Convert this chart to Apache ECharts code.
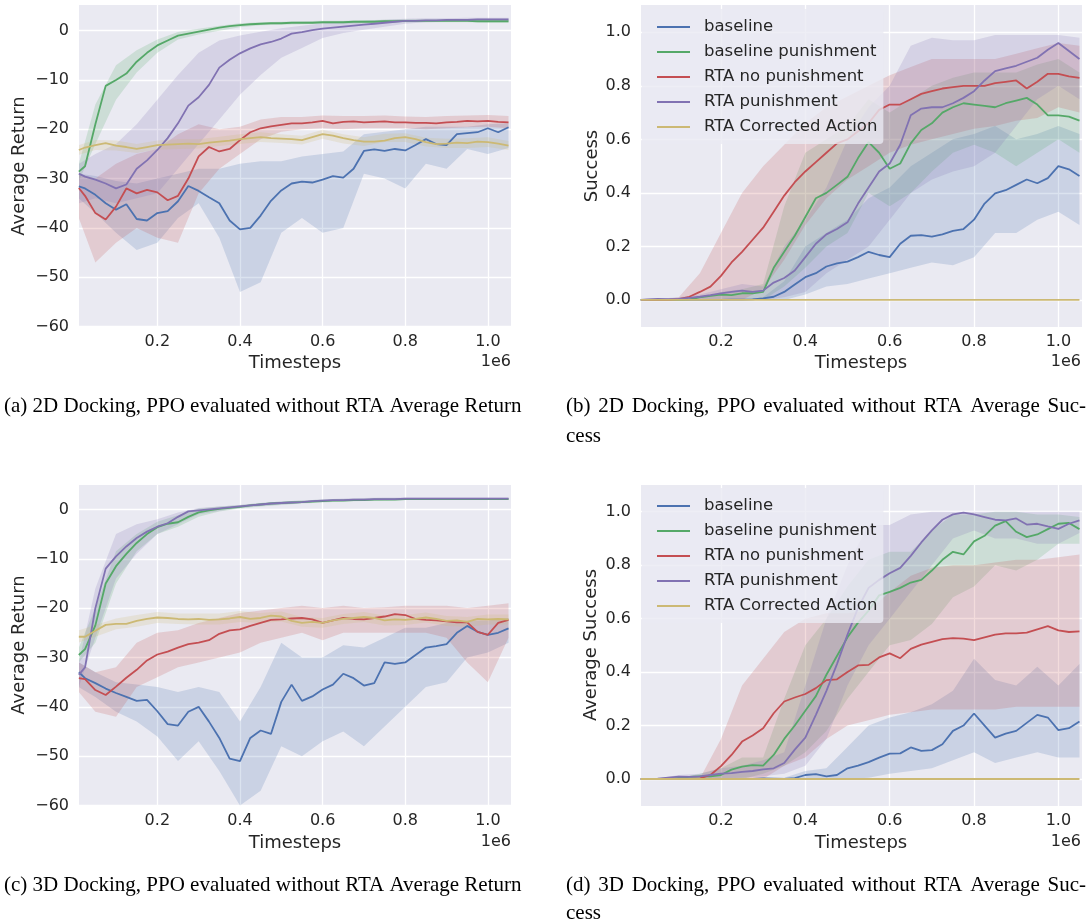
<!DOCTYPE html>
<html>
<head>
<meta charset="utf-8">
<script src="https://cdn.jsdelivr.net/npm/echarts@6/dist/echarts.min.js"></script>
<style>
html,body{margin:0;padding:0;background:#fff;}
#main{width:1091px;height:922px;}
</style>
</head>
<body>
<div id="main"></div>
<script>
// series labels and colours (seaborn deep)
var names = ['baseline', 'baseline punishment', 'RTA no punishment', 'RTA punishment', 'RTA Corrected Action'];
var colors = ['#4C72B0', '#55A868', '#C44E52', '#8172B2', '#CCB974'];
var fills = ['rgba(76,114,176,0.2)', 'rgba(85,168,104,0.2)', 'rgba(196,78,82,0.2)', 'rgba(129,114,178,0.2)', 'rgba(204,185,116,0.2)'];

var xTicks = [0.2, 0.4, 0.6, 0.8, 1.0];
var retTicks = [-60, -50, -40, -30, -20, -10, 0];
var sucTicks = [0, 0.2, 0.4, 0.6, 0.8, 1.0];

// timesteps (x 1e6)
var xs = [0.01, 0.025, 0.05, 0.075, 0.1, 0.125, 0.15, 0.175, 0.2, 0.225, 0.25, 0.275, 0.3, 0.325, 0.35, 0.375, 0.4, 0.425, 0.45, 0.475, 0.5, 0.525, 0.55, 0.575, 0.6, 0.625, 0.65, 0.675, 0.7, 0.725, 0.75, 0.775, 0.8, 0.825, 0.85, 0.875, 0.9, 0.925, 0.95, 0.975, 1.0, 1.025, 1.05];
var bandXs = [0.01, 0.05, 0.1, 0.15, 0.2, 0.25, 0.3, 0.35, 0.4, 0.45, 0.5, 0.55, 0.6, 0.65, 0.7, 0.75, 0.8, 0.85, 0.9, 0.95, 1.0, 1.05];

// (a) 2D average return
var ret2d_baseline = [-31.6, -32, -33.3, -35, -36.3, -35.2, -38.2, -38.5, -37, -36.6, -34.6, -31.5, -32.5, -33.8, -35, -38.5, -40.3, -40, -37.5, -34.5, -32.4, -31, -30.6, -30.8, -30.2, -29.5, -29.8, -28, -24.4, -24.1, -24.4, -24, -24.3, -23.2, -22, -23, -23.2, -21, -20.8, -20.6, -19.8, -20.6, -19.6];
var ret2d_basePun = [-28.6, -27.5, -19, -11.2, -10, -8.7, -6.3, -4.5, -3.0, -2.0, -1.0, -0.6, -0.2, 0.2, 0.6, 0.9, 1.1, 1.3, 1.4, 1.5, 1.5, 1.6, 1.6, 1.6, 1.7, 1.7, 1.7, 1.8, 1.8, 1.8, 1.9, 1.9, 2.0, 2.0, 2.0, 2.0, 2.0, 2.0, 2.0, 1.9, 1.9, 1.9, 1.9];
var ret2d_rtaNoPun = [-31.9, -33.5, -37, -38.3, -35.7, -32, -33, -32.3, -32.8, -34.4, -33.5, -30, -25.5, -23.6, -24.5, -24, -22.2, -20.6, -19.8, -19.4, -19.1, -18.8, -18.8, -18.6, -18.3, -18.8, -18.5, -18.4, -18.6, -18.5, -18.4, -18.6, -18.6, -18.7, -18.7, -18.8, -18.6, -18.5, -18.3, -18.4, -18.3, -18.5, -18.6];
var ret2d_rtaPun = [-29, -29.6, -30.2, -31, -32, -31.2, -28, -26.3, -24.2, -21.8, -18.8, -15.2, -13.5, -11, -7.5, -5.9, -4.6, -3.6, -2.8, -2.3, -1.6, -0.6, -0.3, 0.1, 0.4, 0.6, 0.8, 1.0, 1.2, 1.4, 1.6, 1.8, 2.0, 2.0, 2.1, 2.1, 2.2, 2.2, 2.2, 2.3, 2.3, 2.3, 2.3];
var ret2d_rtaCorr = [-24.2, -23.7, -23.2, -22.8, -23.3, -23.6, -24.0, -23.6, -23.2, -23.1, -23.0, -22.9, -23.0, -22.7, -22.5, -22.3, -22.0, -21.8, -21.6, -21.8, -21.9, -22.0, -22.2, -21.6, -21.0, -21.3, -21.8, -22.2, -22.5, -22.5, -22.3, -21.8, -21.6, -22.0, -22.6, -23.0, -22.9, -22.7, -22.8, -22.5, -22.6, -22.9, -23.3];
var ret2d_baseline_lo = [-34, -37, -41, -44.5, -43, -38, -35, -42, -53, -51, -41, -38, -41, -40, -29, -30, -32, -27, -28, -24, -25, -23.8];
var ret2d_baseline_hi = [-29, -29.5, -30.5, -31, -30, -29, -28, -28, -27, -26.5, -26.5, -25.5, -25, -24.5, -21, -20.5, -20, -19.5, -19.5, -19.5, -19, -18.8];
var ret2d_basePun_lo = [-30.5, -23, -14, -8.5, -4.5, -1.8, -0.8, 0, 0.7, 1.1, 1.2, 1.3, 1.4, 1.4, 1.5, 1.6, 1.7, 1.7, 1.7, 1.7, 1.6, 1.6];
var ret2d_basePun_hi = [-27, -15, -7, -4, -1.8, -0.3, 0.4, 1.0, 1.5, 1.7, 1.8, 1.9, 2.0, 2.0, 2.1, 2.2, 2.3, 2.3, 2.3, 2.3, 2.2, 2.2];
var ret2d_rtaNoPun_lo = [-38, -47, -43, -40, -42, -43, -33, -28, -25, -22, -20.5, -20, -19.8, -20, -19.8, -19.8, -19.8, -20, -19.8, -19.6, -19.5, -19.8];
var ret2d_rtaNoPun_hi = [-29, -30, -27, -25, -24, -21, -19, -20, -19.5, -18, -17.5, -17.5, -17.2, -17.3, -17.3, -17.2, -17.4, -17.5, -17.3, -17.2, -17.1, -17.3];
var ret2d_rtaPun_lo = [-35, -34, -35, -34, -33, -28, -23, -18, -13, -9, -5.5, -3.5, -1.5, -0.5, 0.2, 0.8, 1.4, 1.7, 1.8, 1.9, 2.0, 2.0];
var ret2d_rtaPun_hi = [-27, -25, -23, -19, -14, -9, -4.5, -2, -1, -0.2, 0.5, 1, 1.5, 1.8, 2.0, 2.2, 2.4, 2.5, 2.5, 2.6, 2.6, 2.6];
var ret2d_rtaCorr_lo = [-25.2, -24.2, -24.3, -24.8, -24.1, -24, -23.9, -23.4, -23, -22.6, -22.8, -23.1, -21.9, -22.9, -23.4, -22.6, -22.6, -23.5, -23.8, -23.8, -23.6, -24.2];
var ret2d_rtaCorr_hi = [-23.2, -22.2, -22.3, -23.0, -22.3, -22, -22, -21.5, -21, -20.6, -21, -21.3, -20.1, -21, -21.6, -20.9, -20.8, -21.7, -21.9, -21.8, -21.6, -22.4];

// (b) 2D success
var suc2d_baseline = [0, 0, 0, 0, 0, 0, 0, 0, 0, 0.001, 0.001, 0.002, 0.006, 0.012, 0.03, 0.058, 0.085, 0.1, 0.125, 0.137, 0.143, 0.16, 0.18, 0.168, 0.16, 0.21, 0.24, 0.242, 0.237, 0.245, 0.258, 0.265, 0.3, 0.36, 0.398, 0.41, 0.43, 0.45, 0.436, 0.455, 0.5, 0.488, 0.463];
var suc2d_basePun = [0, 0, 0, 0, 0, 0.002, 0.01, 0.015, 0.02, 0.018, 0.025, 0.025, 0.03, 0.12, 0.18, 0.24, 0.31, 0.38, 0.4, 0.43, 0.46, 0.53, 0.59, 0.55, 0.49, 0.51, 0.585, 0.635, 0.66, 0.70, 0.72, 0.735, 0.73, 0.725, 0.72, 0.735, 0.745, 0.755, 0.73, 0.69, 0.69, 0.685, 0.67];
var suc2d_rtaNoPun = [0, 0, 0, 0, 0.003, 0.012, 0.03, 0.05, 0.09, 0.14, 0.18, 0.225, 0.27, 0.33, 0.39, 0.44, 0.48, 0.515, 0.55, 0.585, 0.6, 0.63, 0.66, 0.71, 0.73, 0.73, 0.75, 0.77, 0.78, 0.79, 0.795, 0.8, 0.8, 0.8, 0.81, 0.815, 0.82, 0.79, 0.815, 0.845, 0.845, 0.835, 0.83];
var suc2d_rtaPun = [0, 0.002, 0.004, 0.003, 0.004, 0.008, 0.012, 0.018, 0.025, 0.03, 0.035, 0.03, 0.035, 0.065, 0.082, 0.11, 0.16, 0.21, 0.245, 0.265, 0.29, 0.36, 0.42, 0.48, 0.51, 0.58, 0.69, 0.715, 0.72, 0.72, 0.735, 0.755, 0.78, 0.82, 0.855, 0.865, 0.875, 0.89, 0.905, 0.935, 0.96, 0.93, 0.9];
var suc2d_rtaCorr = [0, 0, 0, 0, 0, 0, 0, 0, 0, 0, 0, 0, 0, 0, 0, 0, 0, 0, 0, 0, 0, 0, 0, 0, 0, 0, 0, 0, 0, 0, 0, 0, 0, 0, 0, 0, 0, 0, 0, 0, 0, 0, 0];
var suc2d_baseline_lo = [0, 0, 0, 0, 0, 0, 0, 0, 0.02, 0.05, 0.06, 0.08, 0.1, 0.12, 0.14, 0.13, 0.16, 0.25, 0.25, 0.3, 0.33, 0.28];
var suc2d_baseline_hi = [0, 0, 0, 0, 0, 0, 0.01, 0.07, 0.2, 0.25, 0.3, 0.38, 0.42, 0.5, 0.55, 0.6, 0.62, 0.65, 0.6, 0.62, 0.65, 0.62];
var suc2d_basePun_lo = [0, 0, 0, 0, 0, 0, 0, 0.05, 0.12, 0.2, 0.25, 0.4, 0.35, 0.4, 0.48, 0.55, 0.58, 0.55, 0.5, 0.55, 0.6, 0.55];
var suc2d_basePun_hi = [0, 0, 0.002, 0.005, 0.03, 0.04, 0.06, 0.35, 0.55, 0.6, 0.65, 0.75, 0.7, 0.75, 0.8, 0.83, 0.85, 0.85, 0.85, 0.88, 0.9, 0.85];
var suc2d_rtaNoPun_lo = [0, 0, 0, 0, 0, 0, 0.04, 0.15, 0.28, 0.38, 0.45, 0.5, 0.55, 0.58, 0.6, 0.62, 0.64, 0.65, 0.67, 0.68, 0.72, 0.7];
var suc2d_rtaNoPun_hi = [0, 0, 0.01, 0.1, 0.25, 0.4, 0.5, 0.58, 0.66, 0.72, 0.76, 0.8, 0.84, 0.87, 0.9, 0.9, 0.9, 0.9, 0.92, 0.94, 0.96, 0.95];
var suc2d_rtaPun_lo = [0, 0, 0, 0, 0, 0, 0, 0.01, 0.03, 0.1, 0.15, 0.2, 0.3, 0.4, 0.45, 0.48, 0.5, 0.55, 0.65, 0.75, 0.8, 0.75];
var suc2d_rtaPun_hi = [0, 0.005, 0.01, 0.02, 0.04, 0.06, 0.05, 0.2, 0.3, 0.42, 0.6, 0.72, 0.8, 0.95, 0.98, 0.97, 0.97, 0.99, 0.99, 0.99, 0.99, 0.98];

// (c) 3D average return
var ret3d_baseline = [-33, -34.2, -35.2, -36.3, -37.2, -38, -38.8, -38.6, -40.9, -43.5, -43.8, -41, -40, -43, -46.3, -50.5, -51, -46.3, -44.8, -45.5, -39, -35.5, -38.8, -37.9, -36.5, -35.5, -33.3, -34.2, -35.7, -35.2, -31, -31.3, -31, -29.5, -28, -27.7, -27.3, -25, -23.6, -24.8, -25.4, -25, -24.1];
var ret3d_basePun = [-29.5, -28.3, -23.5, -15, -11.5, -9, -6.8, -5, -3.6, -2.9, -2.6, -1.5, -0.6, -0.2, 0.1, 0.3, 0.5, 0.8, 1.0, 1.2, 1.3, 1.4, 1.5, 1.6, 1.7, 1.8, 1.8, 1.9, 1.9, 2.0, 2.0, 2.0, 2.1, 2.1, 2.1, 2.1, 2.1, 2.1, 2.1, 2.1, 2.1, 2.1, 2.1];
var ret3d_rtaNoPun = [-34.2, -34.4, -36.6, -37.6, -35.9, -34.1, -32.5, -30.6, -29.4, -28.8, -28, -27.3, -27, -26.5, -25.2, -24.5, -24.3, -23.6, -23, -22.4, -22.3, -22.1, -22.0, -22.3, -23.0, -22.5, -22.0, -22.2, -22.3, -22.0, -21.7, -21.2, -21.4, -22.2, -22.4, -22.5, -22.7, -22.9, -22.9, -24.8, -25.4, -23.0, -22.4];
var ret3d_rtaPun = [-33.5, -32, -20, -12, -9.5, -7.5, -5.8, -4.5, -3.5, -2.8, -1.5, -0.4, -0.2, 0.0, 0.2, 0.4, 0.6, 0.8, 1.0, 1.2, 1.3, 1.4, 1.5, 1.7, 1.8, 1.9, 1.9, 2.0, 2.0, 2.1, 2.1, 2.1, 2.2, 2.2, 2.2, 2.2, 2.2, 2.2, 2.2, 2.2, 2.2, 2.2, 2.2];
var ret3d_rtaCorr = [-25.8, -25.8, -24.6, -23.4, -23.2, -23.2, -22.6, -22.2, -21.9, -22.0, -22.2, -22.3, -22.2, -22.4, -22.3, -22.1, -21.8, -22.2, -22.0, -21.5, -21.7, -22.6, -23.0, -22.8, -23.0, -22.5, -22.2, -22.0, -21.8, -22.0, -22.5, -22.3, -22.4, -22.2, -21.9, -22.2, -22.6, -22.5, -22.8, -22.2, -22.3, -22.2, -22.3];
var ret3d_baseline_lo = [-36, -38, -41, -43, -46, -51, -47, -53, -60, -57, -48, -50, -47, -45, -48, -44, -40, -36, -35, -30, -29, -27];
var ret3d_baseline_hi = [-31, -33, -35, -35.5, -36, -37, -36, -37, -43, -36, -27, -30, -30, -27.5, -28, -26, -24, -24, -23, -22.5, -22.5, -22];
var ret3d_basePun_lo = [-31, -27, -15, -8.5, -5, -3.5, -1.5, -0.4, 0.2, 0.6, 0.9, 1.2, 1.4, 1.6, 1.7, 1.8, 1.9, 1.9, 1.9, 1.9, 1.9, 1.9];
var ret3d_basePun_hi = [-28, -20, -8.5, -5, -2.5, -1.2, 0.2, 0.6, 0.9, 1.3, 1.6, 1.8, 2.0, 2.1, 2.2, 2.3, 2.3, 2.3, 2.3, 2.3, 2.3, 2.3];
var ret3d_rtaNoPun_lo = [-37, -41, -42, -36, -34, -32, -31, -30, -29, -27, -26, -25, -26.5, -25, -25, -25, -25, -25, -26, -31, -35, -26];
var ret3d_rtaNoPun_hi = [-31, -33, -32, -27, -25, -24.5, -23, -22, -21, -20.5, -20, -19.5, -20, -19.5, -20, -19.8, -19.5, -19.5, -19.5, -20, -19.5, -19];
var ret3d_rtaPun_lo = [-36, -26, -14, -9, -5, -3, -1, -0.3, 0.3, 0.7, 1.0, 1.3, 1.6, 1.7, 1.8, 1.9, 2.0, 2.0, 2.0, 2.0, 2.0, 2.0];
var ret3d_rtaPun_hi = [-31, -16, -5, -3, -2, -0.6, 0.3, 0.6, 0.9, 1.3, 1.6, 1.8, 2.0, 2.2, 2.3, 2.4, 2.4, 2.4, 2.4, 2.4, 2.4, 2.4];
var ret3d_rtaCorr_lo = [-27, -25.8, -24.3, -23.8, -23, -23.2, -23.3, -23.3, -22.8, -23, -22.7, -23.8, -24, -23.2, -22.8, -23.5, -23.4, -22.9, -23.6, -23.8, -23.3, -23.3];
var ret3d_rtaCorr_hi = [-24.5, -23.4, -22.1, -21.4, -20.8, -21.1, -21.1, -21.1, -20.6, -21, -20.7, -21.8, -22, -21.2, -20.8, -21.5, -21.4, -20.9, -21.6, -21.8, -21.3, -21.3];

// (d) 3D average success
var suc3d_baseline = [0, 0, 0, 0, 0, 0, 0, 0, 0, 0, 0, 0, 0.002, 0.001, 0, 0.003, 0.015, 0.018, 0.01, 0.015, 0.04, 0.05, 0.063, 0.08, 0.095, 0.096, 0.118, 0.105, 0.108, 0.13, 0.18, 0.2, 0.245, 0.2, 0.155, 0.17, 0.18, 0.21, 0.24, 0.23, 0.183, 0.19, 0.215];
var suc3d_basePun = [0, 0, 0, 0, 0.004, 0.008, 0.01, 0.01, 0.015, 0.035, 0.046, 0.052, 0.05, 0.09, 0.15, 0.2, 0.255, 0.31, 0.39, 0.46, 0.53, 0.585, 0.63, 0.687, 0.7, 0.715, 0.735, 0.745, 0.78, 0.82, 0.85, 0.84, 0.889, 0.91, 0.948, 0.965, 0.925, 0.905, 0.915, 0.935, 0.955, 0.958, 0.935];
var suc3d_rtaNoPun = [0, 0, 0, 0, 0, 0, 0.002, 0.015, 0.048, 0.09, 0.14, 0.163, 0.19, 0.246, 0.29, 0.305, 0.318, 0.34, 0.37, 0.373, 0.4, 0.425, 0.427, 0.455, 0.47, 0.452, 0.487, 0.503, 0.513, 0.523, 0.527, 0.525, 0.52, 0.53, 0.54, 0.545, 0.545, 0.548, 0.56, 0.572, 0.556, 0.55, 0.552];
var suc3d_rtaPun = [0, 0, 0.001, 0.005, 0.009, 0.008, 0.01, 0.015, 0.02, 0.022, 0.027, 0.03, 0.036, 0.04, 0.06, 0.11, 0.155, 0.24, 0.33, 0.43, 0.54, 0.64, 0.715, 0.745, 0.77, 0.79, 0.835, 0.885, 0.93, 0.97, 0.99, 0.997, 0.99, 0.98, 0.97, 0.968, 0.975, 0.952, 0.955, 0.945, 0.936, 0.955, 0.968];
var suc3d_rtaCorr = [0, 0, 0, 0, 0, 0, 0, 0, 0, 0, 0, 0, 0, 0, 0, 0, 0, 0, 0, 0, 0, 0, 0, 0, 0, 0, 0, 0, 0, 0, 0, 0, 0, 0, 0, 0, 0, 0, 0, 0, 0, 0, 0];
var suc3d_baseline_lo = [0, 0, 0, 0, 0, 0, 0, 0, 0, 0, 0, 0.005, 0.02, 0.03, 0.04, 0.07, 0.1, 0.06, 0.08, 0.1, 0.08, 0.08];
var suc3d_baseline_hi = [0, 0, 0, 0, 0, 0, 0.003, 0.005, 0.03, 0.04, 0.12, 0.2, 0.23, 0.25, 0.28, 0.33, 0.45, 0.37, 0.35, 0.42, 0.35, 0.43];
var suc3d_basePun_lo = [0, 0, 0, 0, 0, 0, 0.02, 0.05, 0.1, 0.18, 0.3, 0.4, 0.5, 0.52, 0.58, 0.68, 0.72, 0.8, 0.78, 0.82, 0.88, 0.88];
var suc3d_basePun_hi = [0, 0, 0.003, 0.02, 0.04, 0.08, 0.08, 0.3, 0.5, 0.6, 0.72, 0.82, 0.85, 0.85, 0.93, 0.99, 0.99, 1.0, 1.0, 0.99, 0.99, 0.98];
var suc3d_rtaNoPun_lo = [0, 0, 0, 0, 0, 0, 0, 0.05, 0.08, 0.15, 0.2, 0.22, 0.24, 0.25, 0.26, 0.26, 0.26, 0.26, 0.27, 0.27, 0.27, 0.27];
var suc3d_rtaNoPun_hi = [0, 0, 0, 0.002, 0.15, 0.35, 0.45, 0.55, 0.6, 0.62, 0.62, 0.63, 0.7, 0.76, 0.79, 0.8, 0.8, 0.81, 0.82, 0.82, 0.83, 0.84];
var suc3d_rtaPun_lo = [0, 0, 0, 0.002, 0.003, 0.005, 0.01, 0.02, 0.05, 0.15, 0.35, 0.5, 0.6, 0.7, 0.8, 0.9, 0.93, 0.9, 0.9, 0.88, 0.88, 0.92];
var suc3d_rtaPun_hi = [0, 0.002, 0.015, 0.02, 0.04, 0.05, 0.07, 0.1, 0.35, 0.6, 0.8, 0.95, 0.95, 0.99, 1.0, 1.0, 1.0, 1.0, 1.0, 1.0, 1.0, 1.0];

var panels = [
	{
		lines: [ret2d_baseline, ret2d_basePun, ret2d_rtaNoPun, ret2d_rtaPun, ret2d_rtaCorr],
		bands: [[ret2d_baseline_lo, ret2d_baseline_hi], [ret2d_basePun_lo, ret2d_basePun_hi], [ret2d_rtaNoPun_lo, ret2d_rtaNoPun_hi], [ret2d_rtaPun_lo, ret2d_rtaPun_hi], [ret2d_rtaCorr_lo, ret2d_rtaCorr_hi]],
		grid: {left: 79, top: 5, width: 432, height: 322},
		yMin: -60.1, yMax: 5.2, yTicks: retTicks, ret: true
	},
	{
		lines: [suc2d_baseline, suc2d_basePun, suc2d_rtaNoPun, suc2d_rtaPun, suc2d_rtaCorr],
		bands: [[suc2d_baseline_lo, suc2d_baseline_hi], [suc2d_basePun_lo, suc2d_basePun_hi], [suc2d_rtaNoPun_lo, suc2d_rtaNoPun_hi], [suc2d_rtaPun_lo, suc2d_rtaPun_hi], null],
		grid: {left: 641, top: 5, width: 441, height: 322},
		yMin: -0.101, yMax: 1.102, yTicks: sucTicks, ret: false
	},
	{
		lines: [ret3d_baseline, ret3d_basePun, ret3d_rtaNoPun, ret3d_rtaPun, ret3d_rtaCorr],
		bands: [[ret3d_baseline_lo, ret3d_baseline_hi], [ret3d_basePun_lo, ret3d_basePun_hi], [ret3d_rtaNoPun_lo, ret3d_rtaNoPun_hi], [ret3d_rtaPun_lo, ret3d_rtaPun_hi], [ret3d_rtaCorr_lo, ret3d_rtaCorr_hi]],
		grid: {left: 79, top: 485, width: 432, height: 321},
		yMin: -60.1, yMax: 4.95, yTicks: retTicks, ret: true
	},
	{
		lines: [suc3d_baseline, suc3d_basePun, suc3d_rtaNoPun, suc3d_rtaPun, suc3d_rtaCorr],
		bands: [[suc3d_baseline_lo, suc3d_baseline_hi], [suc3d_basePun_lo, suc3d_basePun_hi], [suc3d_rtaNoPun_lo, suc3d_rtaNoPun_hi], [suc3d_rtaPun_lo, suc3d_rtaPun_hi], null],
		grid: {left: 641, top: 485, width: 441, height: 321},
		yMin: -0.101, yMax: 1.1, yTicks: sucTicks, ret: false
	}
];

var TXT = '#262626';
var FONT = 'DejaVu Sans';

function retLabel(v) {
	return v < 0 ? '\u2212' + Math.abs(v) : String(v);
}

// band polygon: upper edge left->right, lower edge back, through the axes' coord()
function bandRenderer(lo, hi, fill) {
	return function (params, api) {
		var pts = [];
		for (var i = 0; i < bandXs.length; i++) pts.push(api.coord([bandXs[i], hi[i]]));
		for (var j = bandXs.length - 1; j >= 0; j--) pts.push(api.coord([bandXs[j], lo[j]]));
		return {type: 'polygon', shape: {points: pts}, style: {fill: fill, stroke: null}};
	};
}

var grids = [], xAxes = [], yAxes = [], series = [];

panels.forEach(function (p, pi) {
	grids.push({
		left: p.grid.left, top: p.grid.top, width: p.grid.width, height: p.grid.height,
		show: true, backgroundColor: '#EAEAF2', borderWidth: 0
	});
	xAxes.push({
		type: 'value', gridIndex: pi, min: 0.0104, max: 1.056,
		axisLine: {show: false},
		axisTick: {show: false, customValues: xTicks},
		axisLabel: {customValues: xTicks, color: TXT, fontSize: 16, fontFamily: FONT, margin: 7,
			formatter: function (v) { return v.toFixed(1); }},
		splitLine: {show: true, lineStyle: {color: '#ffffff', width: 1.3}}
	});
	yAxes.push({
		type: 'value', gridIndex: pi, min: p.yMin, max: p.yMax,
		axisLine: {show: false},
		axisTick: {show: false, customValues: p.yTicks},
		axisLabel: {customValues: p.yTicks, color: TXT, fontSize: 16, fontFamily: FONT, margin: 10,
			formatter: p.ret ? retLabel : function (v) { return v.toFixed(1); }},
		splitLine: {show: true, lineStyle: {color: '#ffffff', width: 1.3}}
	});

	p.bands.forEach(function (b, k) {
		if (!b) return;
		series.push({
			name: 'band' + pi + '_' + k, type: 'custom', xAxisIndex: pi, yAxisIndex: pi,
			silent: true, z: 1, clip: true,
			data: [[bandXs[0], b[0][0]]],
			renderItem: bandRenderer(b[0], b[1], fills[k])
		});
	});

	p.lines.forEach(function (arr, k) {
		series.push({
			name: names[k], type: 'line', xAxisIndex: pi, yAxisIndex: pi,
			symbol: 'none', z: 2, silent: true,
			lineStyle: {color: colors[k], width: 1.8},
			itemStyle: {color: colors[k]},
			emphasis: {disabled: true},
			data: xs.map(function (x, i) { return [x, arr[i]]; })
		});
	});
});

function makeLegend(top) {
	return {
		data: names, orient: 'vertical', left: 642, top: top,
		itemWidth: 33, itemHeight: 2, itemGap: 5, icon: 'rect',
		padding: [8, 6, 7, 15],
		backgroundColor: 'rgba(234,234,242,0.8)', borderRadius: 4,
		selectedMode: false,
		textStyle: {fontSize: 16.5, fontFamily: FONT, color: TXT, lineHeight: 20, padding: [0, 0, 0, 9]}
	};
}

function txt(x, y, s, opt) {
	opt = opt || {};
	return {
		type: 'text', x: x, y: y, rotation: opt.rot || 0, silent: true, z: 10,
		style: {
			text: s, fill: opt.fill || TXT,
			fontSize: opt.size || 18, fontFamily: opt.family || FONT,
			align: opt.align || 'center', verticalAlign: 'middle'
		}
	};
}

var SERIF = 'Liberation Serif';
var CAP_SIZE = 21;
var capOpt = {size: CAP_SIZE, family: SERIF, fill: '#000', align: 'left'};

// justified caption line: words spread between x0 and x1
var measureCtx = document.createElement('canvas').getContext('2d');
function justified(x0, x1, y, line) {
	measureCtx.font = CAP_SIZE + 'px "' + SERIF + '"';
	var words = line.split(' ');
	var widths = words.map(function (w) { return measureCtx.measureText(w).width; });
	var total = widths.reduce(function (a, b) { return a + b; }, 0);
	var gap = (x1 - x0 - total) / (words.length - 1);
	var out = [], x = x0;
	words.forEach(function (w, i) {
		out.push(txt(x, y, w, capOpt));
		x += widths[i] + gap;
	});
	return out;
}

var graphics = [
	txt(19, 166, 'Average Return', {rot: Math.PI / 2}),
	txt(295, 363, 'Timesteps'),
	txt(511, 362, '1e6', {size: 16, align: 'right'}),
	txt(592, 166, 'Success', {rot: Math.PI / 2}),
	txt(861, 363, 'Timesteps'),
	txt(1081, 362, '1e6', {size: 16, align: 'right'}),
	txt(19, 645, 'Average Return', {rot: Math.PI / 2}),
	txt(295, 843, 'Timesteps'),
	txt(511, 842, '1e6', {size: 16, align: 'right'}),
	txt(591, 645, 'Average Success', {rot: Math.PI / 2}),
	txt(861, 843, 'Timesteps'),
	txt(1081, 842, '1e6', {size: 16, align: 'right'}),
	txt(4, 406, '(a) 2D Docking, PPO evaluated without RTA Average Return', capOpt),
	txt(566, 436, 'cess', capOpt),
	txt(4, 885, '(c) 3D Docking, PPO evaluated without RTA Average Return', capOpt),
	txt(566, 913, 'cess', capOpt)
].concat(
	justified(566, 1086, 406, '(b) 2D Docking, PPO evaluated without RTA Average Suc-'),
	justified(566, 1086, 885, '(d) 3D Docking, PPO evaluated without RTA Average Suc-')
);

var chart = echarts.init(document.getElementById('main'), null, {renderer: 'canvas'});
chart.setOption({
	animation: false,
	backgroundColor: '#ffffff',
	grid: grids,
	xAxis: xAxes,
	yAxis: yAxes,
	legend: [makeLegend(9), makeLegend(488)],
	series: series,
	graphic: graphics
});
</script>
</body>
</html>
